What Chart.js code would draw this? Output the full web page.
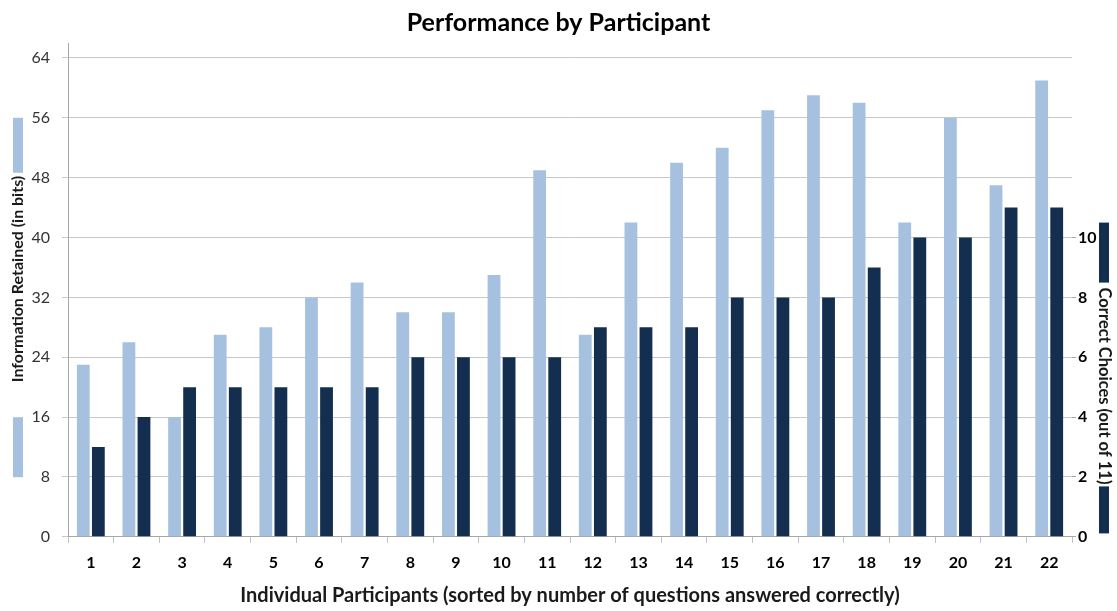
<!DOCTYPE html>
<html>
<head>
<meta charset="utf-8">
<title>Performance by Participant</title>
<script src="https://cdn.jsdelivr.net/npm/chart.js@4.4.1/dist/chart.umd.min.js"></script>
<style>
  html, body { margin: 0; padding: 0; background: #fff; }
  #wrap { width: 1117px; height: 611px; }
</style>
</head>
<body>
<div id="wrap"><canvas id="perfChart" width="1117" height="611"></canvas></div>
<script>
// participants, sorted by number of questions answered correctly
const participants = ['1', '2', '3', '4', '5', '6', '7', '8', '9', '10', '11',
                      '12', '13', '14', '15', '16', '17', '18', '19', '20', '21', '22'];
// information retained, in bits (left axis)
const bitsRetained = [23, 26, 16, 27, 28, 32, 34, 30, 30, 35, 49,
                      27, 42, 50, 52, 57, 59, 58, 42, 56, 47, 61];
// correct choices out of 11 (right axis)
const correctChoices = [3, 4, 5, 5, 5, 5, 5, 6, 6, 6, 6,
                        7, 7, 7, 8, 8, 8, 9, 10, 10, 11, 11];
const bitTicks = [0, 8, 16, 24, 32, 40, 48, 56, 64];
const choiceTicks = [0, 2, 4, 6, 8, 10];

const LIGHT = '#a6c1e0';
const DARK = '#132e4e';
const FONT = 'Lato';

// rotated axis titles with a colour key on either side
const axisTitles = {
  id: 'axisTitles',
  afterDraw(chart) {
    const ctx = chart.ctx;
    const area = chart.chartArea;
    ctx.save();
    ctx.textAlign = 'center';
    ctx.textBaseline = 'middle';

    // left: reads bottom to top
    ctx.font = 'bold 16px ' + FONT;
    const leftText = 'Information Retained (in bits)';
    const lw = ctx.measureText(leftText).width;
    const lx = 18, ly = area.top + 236;
    ctx.save();
    ctx.translate(lx, ly);
    ctx.rotate(-Math.PI / 2);
    ctx.fillStyle = '#1a1a1a';
    ctx.fillText(leftText, 0, 0);
    ctx.restore();
    ctx.fillStyle = LIGHT;
    ctx.fillRect(lx - 5, ly - lw / 2 - 58, 10, 55);
    ctx.fillRect(lx - 5, ly + lw / 2 + 35, 10, 60);

    // right: reads top to bottom
    ctx.font = 'bold 16.5px ' + FONT;
    const rightText = 'Correct Choices (out of 11)';
    const rw = ctx.measureText(rightText).width;
    const rx = 1104, ry = area.top + 343;
    ctx.save();
    ctx.translate(rx, ry);
    ctx.rotate(Math.PI / 2);
    ctx.fillStyle = '#1a1a1a';
    ctx.fillText(rightText, 0, 0);
    ctx.restore();
    ctx.fillStyle = DARK;
    ctx.fillRect(rx - 5, ry - rw / 2 - 65, 10, 60);
    ctx.fillRect(rx - 5, ry + rw / 2 + 2, 10, 47);
    ctx.restore();
  }
};

new Chart(document.getElementById('perfChart').getContext('2d'), {
  type: 'bar',
  data: {
    labels: participants,
    datasets: [{
      label: 'Information Retained (in bits)',
      data: bitsRetained,
      backgroundColor: LIGHT,
      yAxisID: 'yBits',
      categoryPercentage: 0.66,
      barPercentage: 0.85
    }, {
      label: 'Correct Choices (out of 11)',
      data: correctChoices,
      backgroundColor: DARK,
      yAxisID: 'yChoices',
      categoryPercentage: 0.66,
      barPercentage: 0.85
    }]
  },
  options: {
    responsive: false,
    animation: false,
    layout: { padding: 0 },
    plugins: {
      legend: { display: false },
      tooltip: { enabled: false },
      title: {
        display: true,
        text: 'Performance by Participant',
        color: '#000',
        font: { family: FONT, size: 25, weight: 'bold' },
        padding: { top: 8, bottom: 5 }
      }
    },
    scales: {
      x: {
        grid: { drawOnChartArea: false, offset: true, tickLength: 6, color: '#bfbfbf' },
        border: { color: '#a6a6a6' },
        ticks: {
          color: '#000',
          font: { family: FONT, size: 16, weight: 'bold' },
          padding: 10,
          maxRotation: 0,
          autoSkip: false
        },
        title: {
          display: true,
          text: 'Individual Participants (sorted by number of questions answered correctly)',
          color: '#1a1a1a',
          font: { family: FONT, size: 20, weight: 'bold' },
          padding: { top: 2, bottom: 3 }
        }
      },
      yBits: {
        position: 'left',
        min: 0,
        max: 66,
        afterBuildTicks: s => { s.ticks = bitTicks.map(v => ({ value: v })); },
        afterFit: s => { s.width = 68; },
        grid: { color: '#c8c8c8', tickLength: 6 },
        border: { color: '#a6a6a6' },
        ticks: {
          color: '#333',
          font: { family: FONT, size: 16 },
          padding: 12
        }
      },
      yChoices: {
        position: 'right',
        min: 0,
        max: 16.5,
        afterBuildTicks: s => { s.ticks = choiceTicks.map(v => ({ value: v })); },
        afterFit: s => { s.width = 45; },
        grid: { drawOnChartArea: false, tickLength: 4, color: '#a6a6a6' },
        border: { display: false },
        ticks: {
          color: '#000',
          font: { family: FONT, size: 16, weight: 'bold' },
          padding: 2
        }
      }
    }
  },
  plugins: [axisTitles]
});
</script>
</body>
</html>
